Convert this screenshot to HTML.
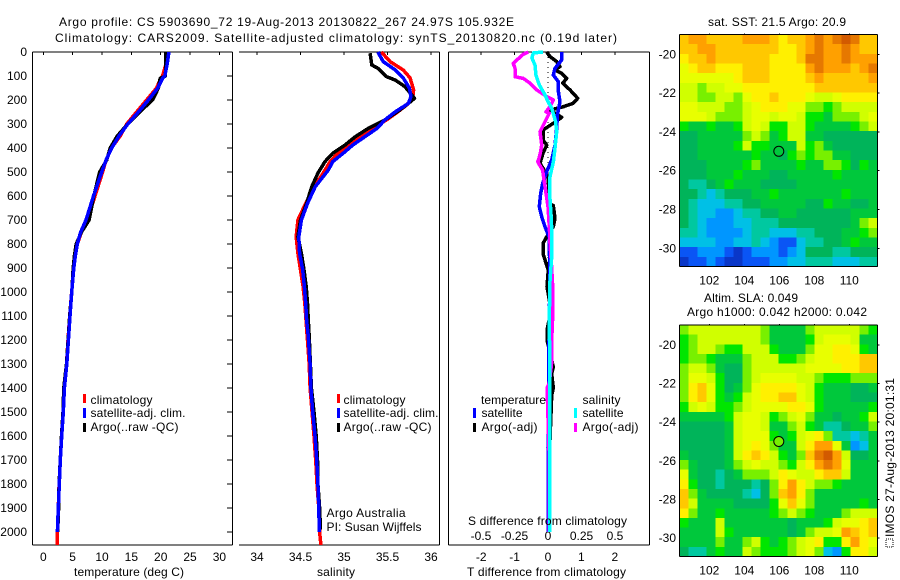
<!DOCTYPE html>
<html lang="en">
<head>
<meta charset="utf-8">
<title>Argo profile CS 5903690_72</title>
<style>
html,body{margin:0;padding:0;background:#fff;width:900px;height:580px;overflow:hidden}
svg{display:block;font-family:"Liberation Sans",sans-serif;font-size:12px;fill:#000}
</style>
</head>
<body>
<svg id="fig" xmlns="http://www.w3.org/2000/svg" width="900" height="580" viewBox="0 0 900 580">
  <rect x="0" y="0" width="900" height="580" fill="#fff"/>
  <text x="59" y="26" textLength="455" lengthAdjust="spacing">Argo profile: CS 5903690_72 19-Aug-2013 20130822_267 24.97S 105.932E</text>
  <text x="55" y="42" textLength="562" lengthAdjust="spacing">Climatology: CARS2009. Satellite-adjusted climatology: synTS_20130820.nc (0.19d later)</text>

  <g id="panelT"></g>
  <g id="panelS"></g>
  <g id="panelD"></g>
  <g id="map1"></g>
  <g id="map2"></g>

  <text x="74" y="576" textLength="110" lengthAdjust="spacing">temperature (deg C)</text>
  <text x="317" y="576" textLength="38" lengthAdjust="spacing">salinity</text>
  <text x="467" y="576" textLength="159" lengthAdjust="spacing">T difference from climatology</text>
  <text x="468" y="525" textLength="159" lengthAdjust="spacing">S difference from climatology</text>

  <g>
    <rect x="83" y="394" width="3" height="9" fill="#f00"/>
    <text x="90.5" y="404" textLength="62" lengthAdjust="spacing">climatology</text>
    <rect x="83" y="408" width="3" height="10" fill="#00f"/>
    <text x="90.5" y="417" textLength="95" lengthAdjust="spacing">satellite-adj. clim.</text>
    <rect x="83" y="423" width="3" height="9" fill="#000"/>
    <text x="90.5" y="431" textLength="88" lengthAdjust="spacing">Argo(..raw -QC)</text>
  </g>
  <g>
    <rect x="337" y="394" width="3" height="9" fill="#f00"/>
    <text x="343.5" y="404" textLength="62" lengthAdjust="spacing">climatology</text>
    <rect x="337" y="408" width="3" height="10" fill="#00f"/>
    <text x="343.5" y="417" textLength="95" lengthAdjust="spacing">satellite-adj. clim.</text>
    <rect x="337" y="423" width="3" height="9" fill="#000"/>
    <text x="343.5" y="431" textLength="88" lengthAdjust="spacing">Argo(..raw -QC)</text>
  </g>
  <text x="326.5" y="517" textLength="79" lengthAdjust="spacing">Argo Australia</text>
  <text x="326.5" y="531" textLength="95" lengthAdjust="spacing">PI: Susan Wijffels</text>

  <g id="diffLegend">
    <text x="481" y="404" textLength="65" lengthAdjust="spacing">temperature</text>
    <rect x="473" y="408" width="3" height="10" fill="#00f"/>
    <text x="481.5" y="417" textLength="41" lengthAdjust="spacing">satellite</text>
    <rect x="473" y="423" width="3" height="9" fill="#000"/>
    <text x="481.5" y="431" textLength="56" lengthAdjust="spacing">Argo(-adj)</text>
    <text x="582.5" y="404" textLength="38" lengthAdjust="spacing">salinity</text>
    <rect x="574" y="408" width="3" height="10" fill="#0ff"/>
    <text x="582.5" y="417" textLength="41" lengthAdjust="spacing">satellite</text>
    <rect x="574" y="423" width="3" height="9" fill="#f0f"/>
    <text x="582.5" y="431" textLength="56" lengthAdjust="spacing">Argo(-adj)</text>
  </g>

  <text x="708" y="26" textLength="138" lengthAdjust="spacing">sat. SST: 21.5  Argo: 20.9</text>
  <text x="704" y="302" textLength="94" lengthAdjust="spacing">Altim. SLA: 0.049</text>
  <text x="687" y="316" textLength="180" lengthAdjust="spacing">Argo h1000: 0.042 h2000: 0.042</text>

  <rect x="886" y="539" width="7" height="8" fill="none" stroke="#000" stroke-width="1" stroke-dasharray="1 1"/>
  <text transform="translate(894,537) rotate(-90)" textLength="159" lengthAdjust="spacing">IMOS 27-Aug-2013 20:01:31</text>
</svg>

<script>
/* ---------- tick labels ---------- */
var depthTicks = [0,100,200,300,400,500,600,700,800,900,1000,1100,1200,1300,1400,1500,1600,1700,1800,1900,2000];
var tempTicks = [0,5,10,15,20,25,30];
var salTicks = [34,34.5,35,35.5,36];
var tDiffTicks = [-2,-1,0,1,2];
var sDiffTicks = [-0.5,-0.25,0,0.25,0.5];
var lonTicks = [102,104,106,108,110];
var latTicks = [20,22,24,26,28,30];

/* ---------- temperature profiles ---------- */
var tempDepth = [0,50,100,110,150,200,250,300,350,400,450,500,600,700,750,800,850,900,1000,1100,1200,1300,1400,1500,1600,1700,1800,1900,2000];
var tempClimExtraDepth = 2054;
var tempClimExtraValue = 2.35;
var tempClim = [21.1,20.9,20.3,20.0,19.3,17.6,15.9,14.2,13.1,11.6,10.7,10.1,8.8,7.5,6.5,5.8,5.45,5.2,4.83,4.5,4.2,3.95,3.6,3.4,3.1,2.9,2.7,2.55,2.4];
var tempSat = [21.4,21.1,20.7,20.3,19.5,17.9,16.2,14.4,12.9,11.65,10.7,9.95,8.55,7.27,6.37,5.8,5.45,5.2,4.83,4.55,4.27,4.0,3.6,3.4,3.13,2.9,2.73,2.56,2.4];
var tempArgo = [20.85,20.85,20.8,19.9,19.6,18.6,16.4,14.4,12.6,11.4,10.8,9.6,8.6,7.8,6.5,5.6,5.3,5.1,4.85,4.5,4.25,3.95,3.5,3.35,3.1,2.9,2.7,2.6,2.45];

/* ---------- salinity profiles ---------- */
var salClimDepth = [0,40,75,108,158,193,221,249,283,317,353,388,422,457,505,561,631,700,770,839,908,978,1047,1300,1400,1600,1700,1800,1900,2000,2054];
var salClim = [35.43,35.53,35.68,35.76,35.80,35.79,35.72,35.62,35.49,35.33,35.2,35.05,34.93,34.84,34.76,34.66,34.56,34.47,34.45,34.47,34.5,34.53,34.55,34.6,34.61,34.655,34.675,34.69,34.71,34.72,34.735];
var salSatDepth = [0,40,75,108,150,186,214,249,283,318,353,388,422,457,492,561,631,700,770,839,908,978,1047,1117,1186,1300,1400,1500,1600,1700,1800,1900,2000];
var salSat = [35.39,35.45,35.59,35.68,35.75,35.77,35.74,35.59,35.47,35.38,35.24,35.1,34.99,34.87,34.82,34.67,34.58,34.51,34.48,34.49,34.525,34.545,34.56,34.57,34.59,34.61,34.62,34.64,34.667,34.686,34.70,34.71,34.716];
var salArgoDepth = [5,54,68,103,117,144,193,214,242,283,318,353,388,422,457,505,561,631,700,770,839,908,978,1047,1117,1186,1400,1500,1600,1700,1800,1900,1990];
var salArgo = [35.3,35.32,35.39,35.49,35.59,35.7,35.81,35.74,35.64,35.47,35.28,35.13,35.01,34.87,34.78,34.7,34.63,34.57,34.5,34.47,34.51,34.54,34.565,34.58,34.59,34.6,34.625,34.655,34.68,34.695,34.7,34.72,34.73];

/* ---------- difference profiles ---------- */
var dSatDepth = [0,33,68,96,124,165,207,262,318,388,450,492,547,588,644,686,728,770,798,900,1200,1650,2000];
var dSatT = [0.41,0.41,0.21,0.16,0.31,0.31,0.36,0.28,0.26,0.21,0.11,-0.02,-0.16,-0.22,-0.26,-0.19,-0.09,0.03,0.03,0.06,0.03,0,0];
var dArgoDepth = [0,19,40,61,75,89,110,130,158,193,214,228,242,272,297,325,367,388,422,464,519,630,640,692,728,770,798,839,880,908,978,1050,1100,1158,1200,1312,1340,1400,1430,1650,1990];
var dArgoT = [-0.04,0.06,0.26,0.36,0.21,0.41,0.56,0.44,0.66,0.89,0.75,0.46,0.06,0.41,0.16,-0.15,-0.15,-0.04,-0.15,-0.24,0.01,0.03,0.16,0.21,0.16,-0.04,-0.15,-0.15,-0.06,0.01,-0.03,0.06,0.06,-0.03,-0.03,0.16,0.11,0.16,0.11,0.05,0.05];
var dSalArgoDepth = [0,10,47,68,103,110,130,144,158,186,200,228,249,255,290,332,388,415,450,457,492,533,588,644,728,798,894,978,1100,1212,1296,1380,1400,1700,2000];
var dSalArgo = [-0.147,-0.186,-0.26,-0.246,-0.246,-0.184,-0.134,-0.11,-0.084,-0.01,0.04,0.015,-0.015,0.01,-0.022,-0.06,-0.047,-0.055,-0.07,-0.077,-0.04,-0.03,-0.015,0,0.01,0.015,0.027,0.035,0.035,0.027,0.027,0.01,-0.007,0.01,0.01];
var dSalSatDepth = [0,4,25,54,96,137,179,207,233,290,332,400,457,519,588,658,728,860,978,1050,1100,1300,1650,2000];
var dSalSat = [-0.037,-0.11,-0.12,-0.097,-0.09,-0.065,-0.022,0,0.027,0.057,0.065,0.052,0.04,0.015,0.012,0.02,0.027,0.027,0.012,0.012,0.008,0.014,0.012,0.012];

/* ---------- map colour levels (0 = coldest/lowest, 15 = warmest/highest) ---------- */
var mapPalette = ['#0a37c8','#0a55f5','#0096ff','#00c0e6','#00c8a0','#00b45a','#00c83c','#00e600','#78f000','#d0ff00','#e8ff00','#fff000','#ffc800','#ffa000','#e67800','#d25a00'];
var mapLonMin = 100.3;
var mapLonMax = 111.6;
var mapCircleLon = 106;
var mapCircleLat = 25;

var sstGrid = [
[12,13,13,12,12,12,12,13,13,13,12,11,12,12,13,14,13,14,15,14,12,12],
[12,12,13,13,12,12,12,12,12,12,12,11,11,12,13,14,13,13,14,13,12,12],
[11,12,12,13,12,12,12,12,12,12,11,11,11,12,14,14,13,13,14,13,13,13],
[10,11,12,12,11,11,11,12,12,12,11,11,11,11,13,14,13,13,13,12,13,14],
[10,10,10,10,10,10,11,12,12,12,11,11,11,11,12,13,12,12,12,12,12,13],
[9,9,8,9,9,10,10,11,11,11,11,11,11,11,11,12,12,12,12,12,12,12],
[9,9,8,8,9,9,8,10,11,11,12,11,11,11,10,9,9,10,11,11,11,11],
[10,10,9,9,9,8,8,9,10,11,11,11,10,10,8,8,7,8,9,9,9,9],
[10,10,10,9,8,8,8,9,10,10,9,10,10,9,7,7,6,8,8,8,9,10],
[7,6,6,7,6,6,7,9,10,9,7,7,9,9,7,6,6,6,6,7,8,9],
[5,5,6,6,6,6,6,8,9,8,6,7,9,9,6,6,5,5,5,5,5,5],
[5,5,6,6,6,6,7,9,7,7,6,6,6,9,7,8,6,5,5,5,5,5],
[5,5,6,6,6,6,6,6,7,6,6,5,7,8,7,8,8,6,6,5,5,5],
[5,5,5,6,6,6,6,7,8,6,6,6,6,7,6,6,8,8,7,5,7,6],
[5,5,5,6,6,6,7,6,6,6,5,5,6,6,6,6,6,7,6,6,6,6],
[5,4,4,5,6,7,6,6,6,5,5,5,5,6,6,6,6,6,6,6,6,6],
[5,5,4,3,4,5,5,5,6,6,7,6,6,6,6,6,6,6,7,6,6,6],
[5,4,3,3,3,4,4,5,5,6,6,6,6,6,5,5,7,6,6,5,5,6],
[5,4,3,3,2,2,3,4,4,5,5,6,6,5,5,5,5,5,5,6,6,6],
[5,4,3,2,2,2,3,3,4,4,4,5,5,5,5,5,5,5,5,6,8,9],
[4,4,3,2,2,2,2,3,4,4,3,3,3,4,4,5,5,5,6,6,7,8],
[3,3,3,3,2,2,3,3,4,3,2,1,1,3,4,4,5,5,6,7,6,6],
[1,1,2,2,2,1,0,1,2,2,2,1,2,3,5,5,5,4,4,5,5,5],
[0,1,1,2,1,0,0,1,1,1,2,2,3,3,4,4,4,3,3,3,4,4]
];

var slaGrid = [
[8,9,9,9,9,9,9,9,9,8,6,6,6,6,8,9,9,9,9,9,8,7],
[7,8,9,9,9,9,9,9,9,8,6,6,6,6,7,9,10,10,10,9,6,6],
[7,8,9,9,8,7,7,9,9,9,7,6,6,6,8,10,10,11,11,10,7,6],
[7,8,8,7,6,6,6,8,9,9,9,7,7,8,9,10,10,11,11,11,12,12],
[8,9,9,8,6,5,5,8,9,9,9,9,9,9,10,10,10,10,11,11,12,12],
[8,10,10,9,7,5,5,8,9,10,10,10,10,9,9,8,7,7,7,8,8,8],
[8,11,12,10,7,5,6,8,10,11,11,11,11,10,9,7,6,6,6,5,5,6],
[8,11,12,10,7,6,7,9,10,11,11,12,12,10,9,7,6,6,6,5,5,5],
[7,9,10,9,7,7,8,9,10,10,10,10,11,11,10,7,6,6,6,6,6,7],
[6,6,6,6,6,7,9,10,10,9,7,8,9,10,8,6,6,5,6,6,7,9],
[5,5,5,5,5,6,9,10,10,9,6,6,8,9,7,6,4,4,5,6,6,8],
[5,5,5,5,5,6,9,10,10,10,7,6,7,9,10,11,8,4,4,3,4,6],
[5,5,5,5,5,6,9,10,11,10,8,6,6,9,11,13,13,10,6,2,3,6],
[6,5,5,5,5,6,9,11,12,11,9,7,6,8,12,14,15,13,9,5,5,6],
[8,6,5,5,5,6,8,9,10,9,9,8,7,9,11,13,14,13,10,6,6,6],
[10,6,5,5,4,5,6,8,8,8,9,11,10,9,9,11,12,12,9,6,6,6],
[11,7,5,5,4,5,5,5,4,5,8,11,13,11,9,8,8,7,6,6,6,6],
[12,8,6,5,5,5,5,4,3,5,8,12,13,11,8,6,6,6,6,6,6,6],
[12,9,6,6,6,6,5,5,5,5,7,10,12,10,8,6,6,6,6,6,7,6],
[11,8,6,6,7,6,6,6,6,6,7,8,9,8,7,6,6,6,8,9,9,9],
[7,6,6,6,9,6,6,6,6,6,6,6,5,6,6,6,7,9,10,10,11,12],
[6,6,6,6,9,7,6,6,6,6,6,6,5,6,8,9,9,10,13,12,11,12],
[6,6,6,6,8,6,6,8,9,7,6,7,8,9,10,11,7,7,11,13,11,10],
[5,4,4,6,7,6,6,9,8,7,7,7,8,9,10,8,3,2,7,11,11,9]
];

/* ---------- axis functions ---------- */
function depthY(d){return 52+0.24*d;}
function tempX(v){return 43.3+5.87*v;}
function salX(v){return 257+87*(v-34);}
function tDiffX(v){return 548+33.4*v;}
function sDiffX(v){return 548+134*v;}
function lonX(v){return 709.3+(v-102)*17.5;}
function lat1Y(v){return 54.3+(v-20)*19.4;}
function lat2Y(v){return 345+(v-20)*19.3;}

var NS='http://www.w3.org/2000/svg';
function mk(tag,parent,attrs){
  var el=document.createElementNS(NS,tag);
  for(var k in attrs){el.setAttribute(k,attrs[k]);}
  parent.appendChild(el);
  return el;
}
function axisLine(parent,x1,y1,x2,y2,name){
  var el=mk('line',parent,{x1:x1,y1:y1,x2:x2,y2:y2,stroke:'#000','stroke-width':1,'shape-rendering':'crispEdges'});
  
  
  return el;
}
function label(parent,x,y,txt,anchor,name){
  var el=mk('text',parent,{x:x,y:y,'text-anchor':anchor});
  el.textContent=txt;
  
  
  return el;
}
function series(parent,depths,values,xf,colour,name){
  var pts=[];
  for(var i=0;i<values.length;i++){pts.push(xf(values[i]).toFixed(1)+','+depthY(depths[i]).toFixed(1));}
  var el=mk('polyline',parent,{points:pts.join(' '),fill:'none',stroke:colour,'stroke-width':3.5,'shape-rendering':'crispEdges','stroke-linejoin':'round'});
  
  
  return el;
}

/* ---------- temperature panel ---------- */
var pT=document.getElementById('panelT');
axisLine(pT,32.5,52,232.5,52,'temperature-top-axis');
axisLine(pT,32.5,545,232.5,545,'temperature-bottom-axis');
axisLine(pT,32.5,52,32.5,545,'temperature-left-axis');
axisLine(pT,232.5,52,232.5,545,'temperature-right-axis');
depthTicks.forEach(function(d){
  axisLine(pT,227,depthY(d),232,depthY(d),'depth-tick');
  label(pT,27,depthY(d)+4,String(d),'end','depth-tick-label');
});
tempTicks.forEach(function(v){
  axisLine(pT,tempX(v),52,tempX(v),55,'temperature-tick');
  label(pT,tempX(v),561,String(v),'middle','temperature-tick-label');
});
series(pT,tempDepth.concat([tempClimExtraDepth]),tempClim.concat([tempClimExtraValue]),tempX,'#f00','temperature-climatology-line');
series(pT,tempDepth,tempArgo,tempX,'#000','temperature-argo-line');
series(pT,tempDepth,tempSat,tempX,'#00f','temperature-satellite-line');

/* ---------- salinity panel ---------- */
var pS=document.getElementById('panelS');
axisLine(pS,239,52,439.5,52,'salinity-top-axis');
axisLine(pS,239,545,439.5,545,'salinity-bottom-axis');
axisLine(pS,439.5,52,439.5,545,'salinity-right-axis');
salTicks.forEach(function(v){
  axisLine(pS,salX(v),52,salX(v),55,'salinity-tick');
  label(pS,salX(v),561,String(v),'middle','salinity-tick-label');
});
series(pS,salClimDepth,salClim,salX,'#f00','salinity-climatology-line');
series(pS,salArgoDepth,salArgo,salX,'#000','salinity-argo-line');
series(pS,salSatDepth,salSat,salX,'#00f','salinity-satellite-line');

/* ---------- difference panel ---------- */
var pD=document.getElementById('panelD');
axisLine(pD,448.5,52,649.5,52,'difference-top-axis');
axisLine(pD,448.5,545,649.5,545,'difference-bottom-axis');
axisLine(pD,448.5,52,448.5,545,'difference-left-axis');
axisLine(pD,649.5,52,649.5,545,'difference-right-axis');
tDiffTicks.forEach(function(v){
  axisLine(pD,tDiffX(v),52,tDiffX(v),55,'t-difference-tick');
  label(pD,tDiffX(v),561,String(v),'middle','t-difference-tick-label');
});
sDiffTicks.forEach(function(v){
  label(pD,sDiffX(v),540,String(v),'middle','s-difference-tick-label');
});
var zeroLine=mk('line',pD,{x1:tDiffX(0),y1:depthY(0),x2:tDiffX(0),y2:depthY(1000),stroke:'#000','stroke-width':1,'stroke-dasharray':'1 4','shape-rendering':'crispEdges'});


series(pD,dArgoDepth,dArgoT,tDiffX,'#000','t-difference-argo-line');
series(pD,dSatDepth,dSatT,tDiffX,'#00f','t-difference-satellite-line');
series(pD,dSalArgoDepth,dSalArgo,sDiffX,'#f0f','s-difference-argo-line');
series(pD,dSalSatDepth,dSalSat,sDiffX,'#0ff','s-difference-satellite-line');

/* ---------- maps ---------- */
function drawMap(group,grid,left,right,top,bottom,latY,circleFill,prefix){
  var rows=grid.length,cols=grid[0].length;
  var cw=(right-left)/cols,ch=(bottom-top)/rows;
  for(var r=0;r<rows;r++){
    for(var c=0;c<cols;c++){
      var cell=mk('rect',group,{x:(left+c*cw).toFixed(2),y:(top+r*ch).toFixed(2),width:(cw+0.5).toFixed(2),height:(ch+0.5).toFixed(2),fill:mapPalette[grid[r][c]],'shape-rendering':'crispEdges'});
      
      
    }
  }
  axisLine(group,left,top,right,top,prefix+'-top-axis');
  axisLine(group,left,bottom,right,bottom,prefix+'-bottom-axis');
  axisLine(group,left,top,left,bottom,prefix+'-left-axis');
  axisLine(group,right,top,right,bottom,prefix+'-right-axis');
  lonTicks.forEach(function(v){
    axisLine(group,lonX(v),top-1,lonX(v),top,prefix+'-longitude-tick');
    label(group,lonX(v),bottom+18,String(v),'middle',prefix+'-longitude-label');
  });
  latTicks.forEach(function(v){
    axisLine(group,right,latY(v),right+2,latY(v),prefix+'-latitude-tick');
    label(group,676,latY(v)+4,'-'+v,'end',prefix+'-latitude-label');
  });
  var circle=mk('circle',group,{cx:lonX(mapCircleLon)-0.5,cy:latY(mapCircleLat),r:5,fill:circleFill,stroke:'#000','stroke-width':1});
  
  
}
drawMap(document.getElementById('map1'),sstGrid,lonX(mapLonMin),lonX(mapLonMax),34.5,266.5,lat1Y,'#00c83c','sst-map');
drawMap(document.getElementById('map2'),slaGrid,lonX(mapLonMin),lonX(mapLonMax),325,556.5,lat2Y,'#78f000','sla-map');

/* keep the difference legend above the plotted lines */
var fig=document.getElementById('fig');
fig.appendChild(document.getElementById('diffLegend'));
</script>
</body>
</html>
